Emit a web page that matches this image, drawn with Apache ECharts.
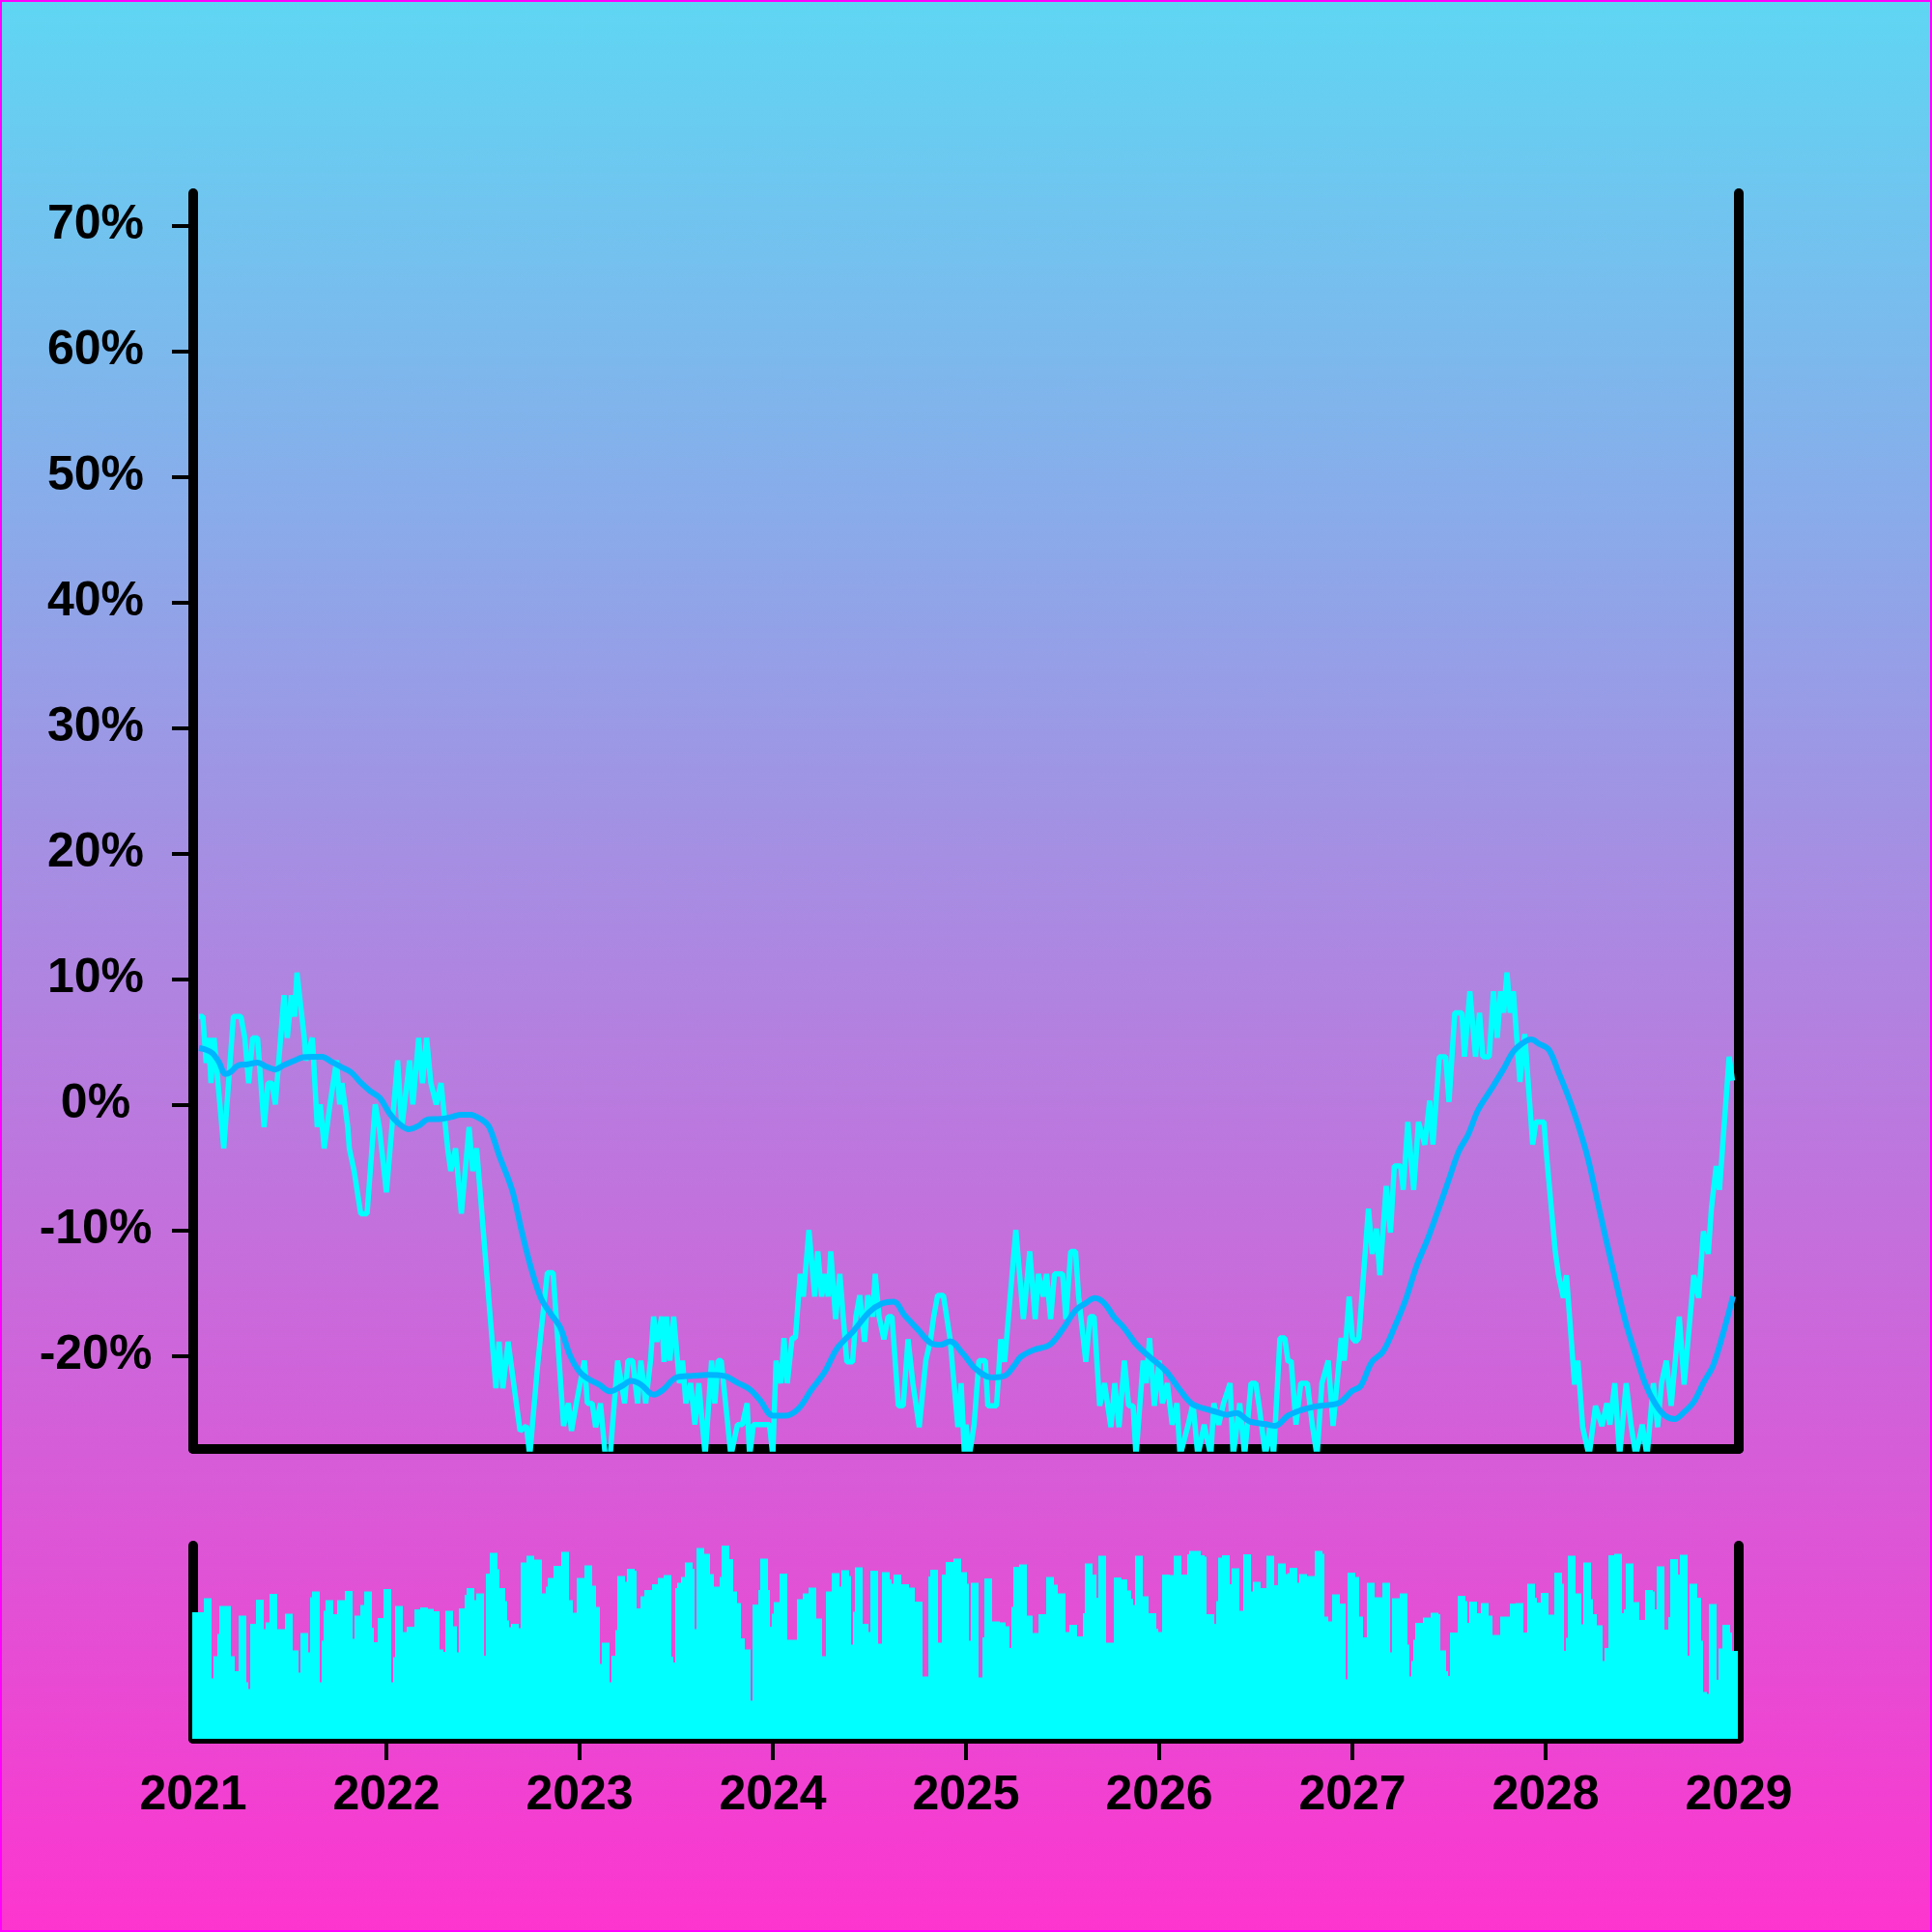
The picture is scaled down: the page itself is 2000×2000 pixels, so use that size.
<!DOCTYPE html>
<html><head><meta charset="utf-8">
<script src="https://cdn.jsdelivr.net/npm/echarts@6/dist/echarts.min.js"></script>
<style>html,body{margin:0;padding:0;background:#fff}#chart{width:2000px;height:2000px}</style>
</head><body><div id="chart"></div>
<script>
const yearTicks = [2021,2022,2023,2024,2025,2026,2027,2028,2029];
const innerYearTicks = [2022,2023,2024,2025,2026,2027,2028];
const pctTicks = [-20,-10,0,10,20,30,40,50,60,70];

// raw series vertices (year, % change)
const lineX = [2021.03,2021.05,2021.067,2021.08,2021.092,2021.108,2021.158,2021.208,2021.247,2021.267,2021.287,2021.308,2021.333,2021.367,2021.387,2021.408,2021.425,2021.47,2021.487,2021.508,2021.525,2021.537,2021.575,2021.583,2021.617,2021.642,2021.658,2021.678,2021.708,2021.742,2021.758,2021.77,2021.8,2021.808,2021.833,2021.85,2021.867,2021.9,2021.942,2021.963,2022.0,2022.058,2022.08,2022.12,2022.137,2022.167,2022.187,2022.208,2022.23,2022.258,2022.283,2022.317,2022.333,2022.358,2022.388,2022.428,2022.447,2022.467,2022.567,2022.583,2022.603,2022.63,2022.675,2022.692,2022.725,2022.742,2022.783,2022.797,2022.833,2022.863,2022.917,2022.942,2022.958,2022.983,
2023.025,2023.04,2023.065,2023.083,2023.108,2023.133,2023.158,2023.197,2023.233,2023.25,2023.275,2023.3,2023.317,2023.342,2023.367,2023.383,2023.4,2023.425,2023.437,2023.45,2023.467,2023.487,2023.517,2023.533,2023.55,2023.575,2023.597,2023.617,2023.65,2023.683,2023.7,2023.717,2023.733,2023.767,2023.783,2023.817,2023.842,2023.867,2023.88,2023.9,2023.983,2024.0,2024.017,2024.042,2024.058,2024.075,2024.1,2024.117,2024.142,2024.158,2024.187,2024.217,2024.233,2024.253,2024.27,2024.287,2024.3,2024.325,2024.347,2024.383,2024.413,2024.43,2024.45,2024.475,2024.492,2024.517,2024.53,2024.55,2024.575,2024.597,2024.617,2024.65,2024.675,2024.7,2024.725,2024.758,2024.792,2024.817,2024.833,2024.853,2024.883,2024.9,2024.917,2024.958,2024.975,2024.992,
2025.0,2025.017,2025.042,2025.067,2025.1,2025.113,2025.158,2025.18,2025.2,2025.258,2025.297,2025.33,2025.358,2025.375,2025.4,2025.417,2025.438,2025.458,2025.5,2025.517,2025.542,2025.567,2025.583,2025.62,2025.642,2025.663,2025.692,2025.717,2025.75,2025.77,2025.792,2025.82,2025.842,2025.865,2025.88,2025.917,2025.933,2025.95,2025.975,2026.0,2026.017,2026.042,2026.067,2026.092,2026.108,2026.15,2026.175,2026.2,2026.233,2026.267,2026.283,2026.308,2026.333,2026.367,2026.383,2026.417,2026.442,2026.475,2026.5,2026.517,2026.55,2026.575,2026.592,2026.625,2026.65,2026.667,2026.683,2026.708,2026.733,2026.767,2026.792,2026.817,2026.842,2026.875,2026.9,2026.942,2026.958,2026.983,2027.0,
2027.017,2027.033,2027.083,2027.103,2027.125,2027.142,2027.175,2027.197,2027.217,2027.25,2027.263,2027.287,2027.317,2027.342,2027.375,2027.4,2027.417,2027.45,2027.483,2027.5,2027.53,2027.567,2027.58,2027.608,2027.637,2027.658,2027.675,2027.708,2027.73,2027.75,2027.767,2027.783,2027.8,2027.817,2027.833,2027.867,2027.892,2027.933,2027.95,2027.992,2028.0,2028.05,2028.067,2028.092,2028.108,2028.15,2028.167,2028.192,2028.225,2028.258,2028.292,2028.317,2028.333,2028.358,2028.383,2028.417,2028.442,2028.467,2028.5,2028.525,2028.558,2028.58,2028.6,2028.625,2028.65,2028.692,2028.717,2028.767,2028.792,2028.817,2028.842,2028.858,2028.883,2028.9,2028.917,2028.95,2028.967];
const lineY = [7.0,7.0,3.3,5.3,1.7,5.3,-3.5,7.0,7.0,5.3,1.7,5.3,5.3,-1.8,1.7,1.7,0,8.7,5.3,8.7,7.0,10.5,5.3,3.5,5.3,-1.8,0,-3.5,0,3.5,0,1.7,-1.8,-3.5,-5.3,-7.0,-8.7,-8.7,0,-1.8,-7.0,3.5,-1.8,3.5,0,5.3,1.7,5.3,1.7,0,1.7,-3.5,-5.3,-3.5,-8.7,-1.8,-5.3,-3.5,-22.6,-18.9,-22.6,-18.9,-24.1,-26.0,-25.6,-28,-20.7,-18.6,-13.4,-13.4,-25.6,-23.8,-26.0,-23.8,
-20.4,-23.8,-23.8,-25.7,-23.8,-28,-28,-20.4,-23.8,-20.4,-20.4,-23.8,-20.4,-23.8,-20.4,-16.9,-18.9,-16.9,-20.5,-16.9,-20.4,-16.9,-22.2,-20.4,-23.8,-22.2,-25.5,-22.2,-28,-20.4,-23.8,-20.4,-20.4,-25.5,-28,-25.5,-25.5,-23.8,-28,-25.5,-25.5,-28,-20.4,-22.2,-18.6,-22.2,-18.6,-18.6,-13.5,-15.3,-10.0,-15.3,-11.7,-15.3,-13.5,-15.3,-11.7,-17.1,-13.5,-20.5,-20.5,-16.9,-15.2,-18.9,-15.2,-16.9,-13.5,-16.9,-18.7,-16.9,-16.9,-24.0,-24.0,-18.7,-22.2,-25.7,-20.4,-18.7,-16.9,-15.2,-15.2,-16.9,-18.6,-25.7,-22.2,-28,
-25.5,-28,-25.5,-20.4,-20.4,-24.0,-24.0,-18.7,-20.5,-10.0,-17.1,-11.7,-17.1,-13.5,-15.3,-13.5,-17.1,-13.5,-13.5,-17.1,-11.7,-11.7,-15.3,-20.5,-16.9,-16.9,-24.0,-22.2,-25.7,-22.2,-25.7,-20.4,-24.0,-24.0,-28,-20.4,-22.2,-18.6,-24.0,-20.4,-23.8,-22.2,-25.5,-23.8,-28,-25.5,-23.8,-28,-25.5,-28,-23.8,-25.5,-23.8,-22.2,-28,-23.8,-28,-22.2,-22.2,-24.0,-28,-25.5,-28,-18.6,-18.6,-20.5,-20.4,-25.5,-22.2,-22.2,-25.5,-28,-22.2,-20.4,-25.6,-18.6,-20.4,-15.3,-18.6,
-18.9,-18.6,-8.3,-11.9,-9.9,-13.6,-6.5,-10.2,-4.9,-4.9,-6.8,-1.4,-6.8,-1.4,-3.2,0.3,-3.2,3.8,3.8,0.2,7.3,7.3,3.8,9.0,3.8,7.3,3.8,3.8,9.0,5.3,9.0,7.3,10.5,7.3,9.0,1.8,5.6,-3.2,-1.4,-1.4,-3.2,-11.7,-13.6,-15.4,-13.6,-22.3,-20.4,-25.7,-28,-24.0,-25.6,-23.8,-25.5,-22.2,-28,-22.2,-25.5,-28,-25.5,-28,-22.2,-25.7,-22.2,-20.4,-24.0,-16.9,-22.3,-13.6,-15.4,-10.1,-11.9,-8.3,-4.9,-6.8,-3.2,3.8,1.9];

// moving average (year, %)
const maX = [2021.03,2021.067,2021.1,2021.133,2021.167,2021.192,2021.233,2021.283,2021.333,2021.383,2021.425,2021.467,2021.517,2021.567,2021.617,2021.667,2021.717,2021.767,2021.817,2021.867,2021.917,2021.967,2022.017,2022.067,2022.117,2022.167,2022.217,2022.283,2022.333,2022.383,2022.433,2022.5,2022.533,2022.583,2022.65,2022.7,2022.75,2022.8,2022.85,2022.9,2022.95,2023.0,2023.05,2023.1,2023.158,2023.217,2023.267,2023.317,2023.383,2023.433,2023.5,2023.583,2023.667,2023.75,2023.817,2023.883,2023.933,2024.0,2024.067,2024.133,2024.2,2024.267,2024.333,2024.417,2024.5,2024.567,2024.625,2024.683,2024.75,2024.817,2024.867,2024.917,2024.983,2025.05,2025.133,2025.2,2025.25,2025.283,2025.35,2025.433,2025.5,2025.567,2025.617,2025.667,2025.717,2025.767,2025.817,2025.883,2025.95,2026.033,2026.1,2026.167,2026.233,2026.3,2026.35,2026.4,2026.467,2026.55,2026.6,2026.667,2026.733,2026.8,2026.867,2026.933,2027.0,2027.042,2027.1,2027.158,2027.217,2027.275,2027.333,2027.392,2027.45,2027.5,2027.55,2027.6,2027.65,2027.717,2027.783,2027.833,2027.883,2027.925,2027.967,2028.017,2028.067,2028.117,2028.167,2028.217,2028.267,2028.317,2028.367,2028.417,2028.467,2028.517,2028.567,2028.617,2028.667,2028.717,2028.767,2028.817,2028.867,2028.917,2028.97];
const maY = [4.48,4.35,4.07,3.38,2.42,2.56,3.11,3.19,3.33,2.98,2.78,3.11,3.44,3.75,3.8,3.8,3.38,2.98,2.56,1.74,1.05,0.5,-0.74,-1.56,-1.97,-1.7,-1.18,-1.15,-1.01,-0.82,-0.82,-1.28,-1.83,-4.03,-6.78,-10.08,-13.1,-15.43,-16.67,-17.77,-19.97,-21.3,-21.9,-22.3,-22.85,-22.44,-22.02,-22.3,-23.12,-22.71,-21.75,-21.62,-21.53,-21.62,-22.16,-22.71,-23.54,-24.78,-24.78,-24.22,-22.71,-21.34,-19.42,-18.05,-16.53,-15.85,-15.71,-16.81,-17.91,-19.0,-19.14,-18.87,-19.83,-21.06,-21.75,-21.62,-20.79,-20.1,-19.55,-19.14,-17.91,-16.39,-15.85,-15.43,-15.85,-16.95,-17.77,-19.14,-20.1,-21.2,-22.58,-23.82,-24.22,-24.5,-24.72,-24.58,-25.24,-25.46,-25.6,-24.78,-24.36,-24.08,-23.95,-23.75,-22.8,-22.44,-20.52,-19.69,-17.77,-15.57,-12.82,-10.62,-8.15,-5.95,-3.76,-2.38,-0.46,1.18,2.84,4.21,4.9,5.17,4.82,4.35,2.56,0.64,-1.56,-4.17,-7.6,-11.04,-14.33,-17.49,-19.97,-22.3,-23.82,-24.78,-25.05,-24.5,-23.68,-22.16,-20.79,-18.32,-15.29];

// volume bars, one per step of 0.01 year starting 2021
const barVals = [
65.5,65.5,65.5,65.5,65.5,65.5,72.8,72.8,72.8,72.8,
31.2,42.8,42.8,54.2,68.7,68.7,68.7,68.7,68.7,68.7,
42.8,42.8,35,35,63.8,63.8,63.8,63.8,29.2,25.8,
59.5,59.5,59.5,72,72,72,72,56.7,60.3,60.3,
75,75,75,75,56.7,56.7,56.7,56.7,64.7,64.7,
64.7,64.7,45.8,45.8,45.8,34.2,54.7,54.7,54.7,54.7,
44.7,73.3,76.2,76.2,76.2,76.2,29.2,50.8,66.3,71.7,
71.7,71.7,71.7,64.5,64.5,71.7,71.7,71.7,71.7,76.5,
76.5,76.5,76.5,51.7,63.7,63.7,63.7,69.2,69.2,76.2,
76.2,76.2,76.2,57.5,50,50,62.5,62.5,62.5,77.5,
77.5,77.5,77.5,29.2,42.2,68.7,68.7,68.7,68.7,55.3,
55.3,58,58,58,58,67,67,67,68,68,
68,68,67.3,67.3,67.3,66,66,66,46.3,46.3,
45,66.3,66.3,66.3,66.3,58.3,58.3,44.7,67.5,67.5,
67.5,74.5,78,78,78,78,71.7,75.3,75.3,75.3,
75.3,43,85.5,85.5,96.3,96.3,96.3,96.3,87.8,78,
78,78,71.3,61.2,57.8,59.5,59.5,59.5,59.5,57.2,
91.2,91.2,91.2,94.7,94.7,94.7,94.7,92.8,92.8,92.8,
92.8,75.3,75.3,78.8,83.3,83.3,83.3,89.5,89.5,89.5,
89.5,96.7,96.7,96.7,96.7,71.7,71.7,65.3,65.3,83.3,
83.3,83.3,83.3,89.7,89.7,89.7,89.7,79.2,79.2,68.3,
68.3,38.7,49.7,49.7,49.7,49.7,29.2,43,43,56.3,
84.2,84.2,84.2,84.2,81.2,88,88,88,88,87,
67.5,67.5,73.7,73.7,77,77,77,77,80,80,
80,83.3,83.3,83.3,84.7,84.7,84.7,84.7,42.5,39.5,
78,80.8,80.8,83.7,83.7,91.2,91.2,91.2,91.2,88,
56.7,98.8,98.8,98.8,98.8,95.8,95.8,95.8,85.3,85.3,
78.8,78.8,78.8,83.7,100,100,100,100,93,93,
76.2,76.2,70.3,70.3,52,52,46.3,46.3,46.3,19.7,
69.5,69.5,69.5,77,93.3,93.3,93.3,93.3,77,58,
64.7,70.8,70.8,70.8,85.5,85.5,85.5,85.5,51.3,51.3,
51.3,51.3,51.3,72.2,72.2,72.2,75.3,75.3,75.3,78.3,
78.3,78.3,78.3,62.3,62.3,62.3,42.8,42.8,76.3,76.3,
76.3,85.7,85.7,85.7,85.7,78.7,87.3,87.3,87.3,87.3,
84.3,48.7,65.8,88.8,88.8,88.8,88.8,59.5,59.5,59.5,
55.3,87,87,87,87,49.2,49.2,86.3,86.3,86.3,
86.3,82.5,80.3,85,85,85,85,80,80,80,
80,78.3,78.3,78.3,71,71,71,71,32.2,32.2,
32.2,84,87.5,87.5,87.5,87.5,49.7,49.7,85,85,
91.5,91.5,91.5,91.5,93.3,93.3,93.3,93.3,86.3,86.3,
86.3,80.3,50.8,80.8,80.8,80.8,80.8,31.7,31.7,52.5,
83,83,83,83,60.8,60.8,60.8,60.8,60.3,60.3,
60.3,58.2,58.2,47,68.3,89,89,89,90.3,90.3,
90.3,90.3,63.7,63.7,63.7,54.7,54.7,54.7,64.5,64.5,
64.5,64.5,83.8,83.8,83.8,83.8,79.7,79.7,75.3,75.3,
75.3,75.3,55.3,55.3,59,59,59,59,53,53,
53,65,90.8,90.8,90.8,90.8,85,85,73,94.7,
94.7,94.7,94.7,49.7,49.7,49.7,49.7,83.5,83.5,83.5,
83.5,82.5,82.5,82.5,76.7,76.7,72.5,69.2,94.8,94.8,
94.8,94.8,73.8,73.8,73.8,65,65,65,65,57,
55.3,55.3,85,85,85,85,84.7,84.7,94.8,94.8,
94.8,94.8,85,85,85,95.5,97.3,97.3,97.3,97.3,
97.3,97.3,95,95,94.2,64.5,64.5,64.5,64.5,59.5,
71.2,93.7,93.7,95,95,95,95,80,88.3,88.3,
88.3,88.3,66.3,66.3,95.5,95.5,95.5,95.5,76.3,81.2,
81.2,81.2,81.2,78,78,78,94.8,94.8,94.8,94.8,
79.5,79.5,90.8,90.8,90.8,90.8,85.3,85.8,88.5,88.5,
88.5,88.5,80.8,85.3,85.3,85.3,85.3,84.2,84.2,84.2,
84.2,97.2,97.2,97.2,97.2,95.8,63.3,63.3,60.7,60.7,
74.7,74.7,74.7,74.7,70,70,70,30.8,86,86,
86,86,83.7,83.7,63.3,63.3,52.5,52.5,80.8,80.8,
80.8,80.8,73.3,73.3,73.3,73.3,80.8,80.8,80.8,80.8,
44.7,72.8,72.8,72.8,72.8,75.3,75.3,75.3,75.3,48.7,
32.3,40.3,51.3,60,60,60,60,62.7,62.7,62.7,
62.7,65.3,65.3,65.3,65.3,64.5,45.7,45.7,45.7,35,
32.5,55,55,55,55,74,74,74,74,71.2,
60,71,71,71,71,65,65,70.3,70.3,70.3,
70.3,63.8,63.8,53.8,53.8,53.8,53.8,63.3,63.3,63.3,
63.3,63.3,70,70,70,70.3,70.3,70.3,70.3,55,
55,80.3,80.3,80.3,80.3,73,70.5,70.5,75.5,75.5,
75.5,75.5,64.2,64.2,64.2,86,86,86,86,80.3,
45.5,52.3,94.8,94.8,94.8,94.8,75.3,75.3,75.3,59.2,
91.3,91.3,91.3,91.3,72.2,64.5,64.5,58.8,58.8,58.8,
40.3,47,47,95,95,95,95.8,95.8,95.8,95.8,
65,67,90.8,90.8,90.8,90.8,70.8,70.8,70.8,61.5,
61.5,61.5,77,77,77,77,76.3,67,89.2,89.2,
89.2,89.2,56.5,56.5,63,93,93,93,93,85,
95.3,95.3,95.3,95.3,43,80.3,80.3,80.3,80.3,73,
73,50.8,24.2,24.2,23.3,69.8,69.8,69.8,69.8,30.5,
46.7,46.7,59,59,59,59,55,45.5,45.5,45.5];

const FONT = 'Liberation Sans, Arial, Helvetica, sans-serif';
const AXIS_LINE = {show:true, onZero:false, lineStyle:{color:'#000', width:10, cap:'round'}};
const labelStyle = {color:'#000', fontSize:50, fontWeight:'bold', fontFamily:FONT};

const chart = echarts.init(document.getElementById('chart'), null, {renderer:'canvas', width:2000, height:2000});
chart.setOption({
  animation:false,
  backgroundColor: new echarts.graphic.LinearGradient(0,0,0,1,[{offset:0,color:'#5fd6f3'},{offset:1,color:'#fd35cf'}]),
  graphic:[{type:'rect', silent:true, z:100, shape:{x:1,y:1,width:1998,height:1998}, style:{fill:'none', stroke:'#f0f', lineWidth:2}}],
  grid:[
    {left:200, top:200, width:1600, height:1300},
    {left:200, top:1600, width:1600, height:200}
  ],
  xAxis:[
    {gridIndex:0, type:'value', min:2021, max:2029, interval:1, axisLine:AXIS_LINE, axisTick:{show:false}, axisLabel:{show:false}, splitLine:{show:false}},
    {gridIndex:1, type:'value', min:2021, max:2029, interval:1, axisLine:AXIS_LINE,
      axisTick:{show:true, length:22, lineStyle:{color:'#000', width:4}, customValues:innerYearTicks},
      axisLabel:Object.assign({show:true, margin:34, customValues:yearTicks, showMinLabel:true, showMaxLabel:true, formatter:v=>String(v)}, labelStyle),
      splitLine:{show:false}}
  ],
  yAxis:[
    {gridIndex:0, type:'value', position:'left', min:-27.44, max:72.56, axisLine:AXIS_LINE,
      axisTick:{show:true, length:22, lineStyle:{color:'#000', width:4}, customValues:pctTicks},
      axisLabel:Object.assign({show:true, align:'center', margin:101, customValues:pctTicks, formatter:v=>Math.round(v)+'%'}, labelStyle),
      splitLine:{show:false}},
    {gridIndex:0, type:'value', position:'right', min:-27.44, max:72.56, axisLine:AXIS_LINE, axisTick:{show:false}, axisLabel:{show:false}, splitLine:{show:false}},
    {gridIndex:1, type:'value', position:'left', min:0, max:100, axisLine:AXIS_LINE, axisTick:{show:false}, axisLabel:{show:false}, splitLine:{show:false}},
    {gridIndex:1, type:'value', position:'right', min:0, max:100, axisLine:AXIS_LINE, axisTick:{show:false}, axisLabel:{show:false}, splitLine:{show:false}}
  ],
  series:[
    {type:'bar', xAxisIndex:1, yAxisIndex:2, barWidth:2, itemStyle:{color:'#00ffff'}, z:1,
      data: barVals.map((v,i)=>[2021 + i/100, v])},
    {type:'line', xAxisIndex:0, yAxisIndex:0, symbol:'none', z:2,
      lineStyle:{color:'#00ffff', width:5.5},
      data: lineX.map((x,i)=>[x, lineY[i]])},
    {type:'line', xAxisIndex:0, yAxisIndex:0, symbol:'none', smooth:0.35, z:3,
      lineStyle:{color:'#00b4ff', width:6},
      data: maX.map((x,i)=>[x, maY[i]])}
  ]
});
</script></body></html>
